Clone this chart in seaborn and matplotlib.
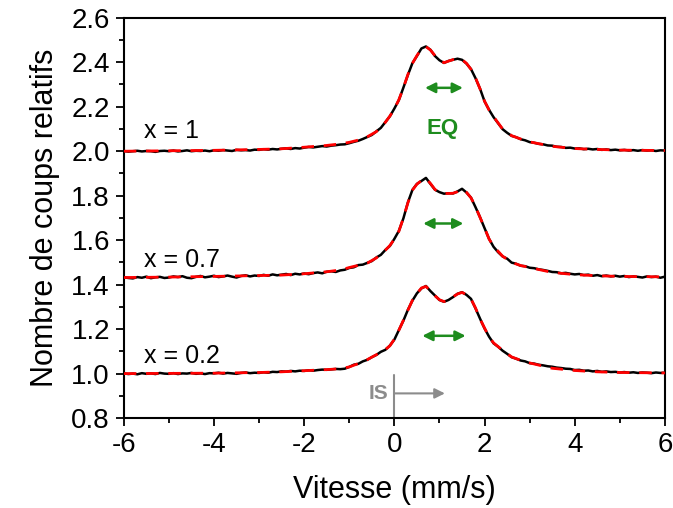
import numpy as np
import pandas as pd
import matplotlib
matplotlib.use("Agg")
import matplotlib.pyplot as plt
from matplotlib.ticker import MultipleLocator
import seaborn as sns

# ---------------- data ----------------
velocity = [round(-6.0 + 0.1 * i, 1) for i in range(121)]

counts_x1 = [
    2.001, 1.998, 2.000, 2.002, 1.999, 2.001, 2.000, 1.997, 2.001, 2.002,
    2.000, 2.003, 1.999, 2.001, 2.004, 2.000, 2.002, 2.001, 2.003, 2.000,
    2.004, 2.002, 2.005, 2.003, 2.001, 2.006, 2.004, 2.005, 2.003, 2.007,
    2.006, 2.009, 2.007, 2.010, 2.008, 2.011, 2.013, 2.010, 2.014, 2.012,
    2.016, 2.019, 2.017, 2.020, 2.023, 2.021, 2.025, 2.027, 2.030, 2.031,
    2.036, 2.042, 2.047, 2.055, 2.064, 2.073, 2.089, 2.105, 2.131, 2.157,
    2.192, 2.230, 2.286, 2.343, 2.396, 2.428, 2.462, 2.471, 2.456, 2.428,
    2.409, 2.397, 2.406, 2.411, 2.416, 2.411, 2.394, 2.369, 2.328, 2.281,
    2.224, 2.186, 2.153, 2.126, 2.099, 2.083, 2.069, 2.063, 2.054, 2.049,
    2.041, 2.038, 2.033, 2.031, 2.026, 2.025, 2.020, 2.019, 2.015, 2.016,
    2.012, 2.013, 2.009, 2.011, 2.008, 2.010, 2.006, 2.008, 2.005, 2.007,
    2.004, 2.006, 2.003, 2.005, 2.002, 2.005, 2.003, 2.004, 2.001, 2.004,
    2.003,
]

counts_x07 = [
    1.433, 1.430, 1.428, 1.434, 1.431, 1.436, 1.429, 1.433, 1.435, 1.430,
    1.432, 1.437, 1.434, 1.438, 1.431, 1.429, 1.435, 1.439, 1.433, 1.436,
    1.440, 1.434, 1.437, 1.441, 1.436, 1.432, 1.439, 1.442, 1.437, 1.441,
    1.439, 1.444, 1.440, 1.446, 1.442, 1.445, 1.448, 1.443, 1.449, 1.446,
    1.450, 1.447, 1.452, 1.455, 1.451, 1.458, 1.460, 1.457, 1.464, 1.467,
    1.475, 1.478, 1.488, 1.490, 1.498, 1.506, 1.522, 1.534, 1.556, 1.574,
    1.606, 1.642, 1.698, 1.770, 1.826, 1.853, 1.866, 1.880, 1.853, 1.827,
    1.816, 1.809, 1.811, 1.810, 1.819, 1.831, 1.814, 1.791, 1.748, 1.703,
    1.654, 1.606, 1.570, 1.546, 1.527, 1.517, 1.499, 1.494, 1.485, 1.483,
    1.476, 1.474, 1.469, 1.466, 1.462, 1.457, 1.456, 1.451, 1.453, 1.449,
    1.446, 1.448, 1.443, 1.445, 1.440, 1.443, 1.438, 1.441, 1.437, 1.440,
    1.436, 1.439, 1.434, 1.437, 1.435, 1.432, 1.437, 1.434, 1.436, 1.431,
    1.436,
]

counts_x02 = [
    1.001, 0.998, 1.000, 0.997, 1.002, 0.999, 1.001, 0.998, 1.003, 1.000,
    0.999, 1.002, 0.998, 1.001, 1.000, 1.003, 0.999, 1.001, 0.998, 1.002,
    1.001, 1.004, 1.000, 1.003, 1.001, 0.999, 1.003, 1.005, 1.002, 1.004,
    1.003, 1.006, 1.004, 1.008, 1.007, 1.010, 1.009, 1.012, 1.010, 1.013,
    1.012, 1.015, 1.013, 1.016, 1.018, 1.017, 1.019, 1.021, 1.020, 1.022,
    1.030, 1.040, 1.044, 1.055, 1.062, 1.074, 1.084, 1.098, 1.107, 1.126,
    1.153, 1.196, 1.238, 1.287, 1.328, 1.361, 1.383, 1.394, 1.371, 1.351,
    1.331, 1.323, 1.331, 1.344, 1.359, 1.366, 1.354, 1.336, 1.293, 1.247,
    1.203, 1.166, 1.136, 1.121, 1.103, 1.089, 1.074, 1.067, 1.059, 1.055,
    1.047, 1.045, 1.040, 1.037, 1.033, 1.031, 1.027, 1.025, 1.022, 1.021,
    1.016, 1.017, 1.013, 1.014, 1.010, 1.012, 1.008, 1.010, 1.007, 1.008,
    1.005, 1.007, 1.004, 1.006, 1.003, 1.005, 1.004, 1.002, 1.005, 1.003,
    1.004,
]

fit_velocity = [-6, -5, -4, -3, -2.5, -2, -1.5, -1.2, -1.0, -0.8, -0.6, -0.4,
                -0.2, -0.1, 0.0, 0.1, 0.2, 0.3, 0.4, 0.5, 0.6, 0.7, 0.8, 0.9,
                1.0, 1.1, 1.2, 1.3, 1.4, 1.5, 1.6, 1.7, 1.8, 1.9, 2.0, 2.1,
                2.2, 2.4, 2.6, 2.8, 3.0, 3.5, 4.0, 4.5, 5.0, 6.0]

fit_x1 = [2.000, 2.002, 2.004, 2.008, 2.011, 2.018, 2.026, 2.033, 2.040, 2.050,
          2.065, 2.088, 2.130, 2.158, 2.190, 2.232, 2.285, 2.345, 2.395, 2.430,
          2.460, 2.470, 2.455, 2.430, 2.410, 2.398, 2.405, 2.412, 2.415, 2.412,
          2.395, 2.368, 2.330, 2.280, 2.225, 2.185, 2.155, 2.100, 2.070, 2.055,
          2.042, 2.022, 2.012, 2.008, 2.005, 2.003]

fit_x07 = [1.432, 1.434, 1.437, 1.441, 1.443, 1.449, 1.458, 1.466, 1.477, 1.487,
           1.497, 1.520, 1.555, 1.576, 1.605, 1.640, 1.700, 1.768, 1.825, 1.852,
           1.868, 1.878, 1.855, 1.828, 1.815, 1.810, 1.810, 1.811, 1.818, 1.830,
           1.815, 1.790, 1.750, 1.702, 1.655, 1.605, 1.572, 1.528, 1.500, 1.486,
           1.477, 1.455, 1.445, 1.440, 1.437, 1.435]

fit_x02 = [1.000, 1.001, 1.002, 1.005, 1.008, 1.013, 1.018, 1.022, 1.030, 1.045,
           1.063, 1.085, 1.108, 1.125, 1.155, 1.195, 1.240, 1.285, 1.330, 1.360,
           1.385, 1.392, 1.372, 1.350, 1.332, 1.324, 1.330, 1.345, 1.358, 1.365,
           1.355, 1.335, 1.295, 1.245, 1.205, 1.165, 1.138, 1.105, 1.075, 1.060,
           1.048, 1.024, 1.014, 1.008, 1.005, 1.003]

series_labels = ["x = 1", "x = 0.7", "x = 0.2"]
label_y = [2.09, 1.51, 1.08]
eq_arrow_y = [2.285, 1.675, 1.17]
eq_arrow_x0 = [0.68, 0.64, 0.62]
eq_arrow_x1 = [1.52, 1.53, 1.58]

# ---------------- style ----------------
sns.set_theme(style="white")
plt.rcParams["font.family"] = ["Liberation Sans", "DejaVu Sans"]
plt.rcParams["axes.unicode_minus"] = False

fig = plt.figure(figsize=(6.73, 5.08), dpi=100)
ax = fig.add_axes([0.184, 0.177, 0.804, 0.788])

data_sets = [counts_x1, counts_x07, counts_x02]
fit_sets = [fit_x1, fit_x07, fit_x02]

for counts in data_sets:
    sns.lineplot(x=velocity, y=counts, ax=ax, color="black", linewidth=1.8,
                 errorbar=None, sort=False, zorder=2)
for fit in fit_sets:
    sns.lineplot(x=fit_velocity, y=fit, ax=ax, color="#ff0000", linewidth=2.0,
                 linestyle=(0, (4.5, 3.5)), errorbar=None, sort=False, zorder=3)

green = "#1e8c1e"
for lab, ly, ay, a0, a1 in zip(series_labels, label_y, eq_arrow_y, eq_arrow_x0, eq_arrow_x1):
    ax.text(-5.55, ly, lab, fontsize=18, ha="left", va="center", color="black")
    ax.annotate("", xy=(a1, ay), xytext=(a0, ay),
                arrowprops=dict(arrowstyle="<|-|>", color=green, lw=1.8,
                                mutation_scale=15, shrinkA=0, shrinkB=0))

ax.text(1.07, 2.10, "EQ", fontsize=16, fontweight="bold", color=green,
        ha="center", va="center")

# IS marker
gray = "#8c8c8c"
ax.plot([0, 0], [0.8, 0.995], color=gray, lw=1.5, zorder=1)
ax.annotate("", xy=(1.12, 0.911), xytext=(0, 0.911),
            arrowprops=dict(arrowstyle="-|>", color=gray, lw=1.5,
                            mutation_scale=15, shrinkA=0, shrinkB=0))
ax.text(-0.13, 0.911, "IS", fontsize=15, fontweight="bold", color=gray,
        ha="right", va="center")

ax.set_xlim(-6, 6)
ax.set_ylim(0.8, 2.6)
ax.xaxis.set_major_locator(MultipleLocator(2))
ax.xaxis.set_minor_locator(MultipleLocator(1))
ax.yaxis.set_major_locator(MultipleLocator(0.2))
ax.yaxis.set_minor_locator(MultipleLocator(0.1))
ax.yaxis.set_major_formatter(matplotlib.ticker.FormatStrFormatter("%.1f"))

ax.tick_params(axis="both", which="major", direction="out", length=6, width=1.3,
               labelsize=20, color="black", labelcolor="black", pad=4,
               bottom=True, left=True, top=False, right=False)
ax.tick_params(axis="both", which="minor", direction="out", length=3.5, width=1.3,
               color="black", bottom=True, left=True, top=False, right=False)

for sp in ax.spines.values():
    sp.set_visible(True)
    sp.set_color("black")
    sp.set_linewidth(1.5)

ax.set_xlabel("Vitesse (mm/s)", fontsize=22, color="black", labelpad=12)
ax.set_ylabel("Nombre de coups relatifs", fontsize=22, color="black", labelpad=8)
ax.grid(False)

fig.savefig("out.png", dpi=100)
